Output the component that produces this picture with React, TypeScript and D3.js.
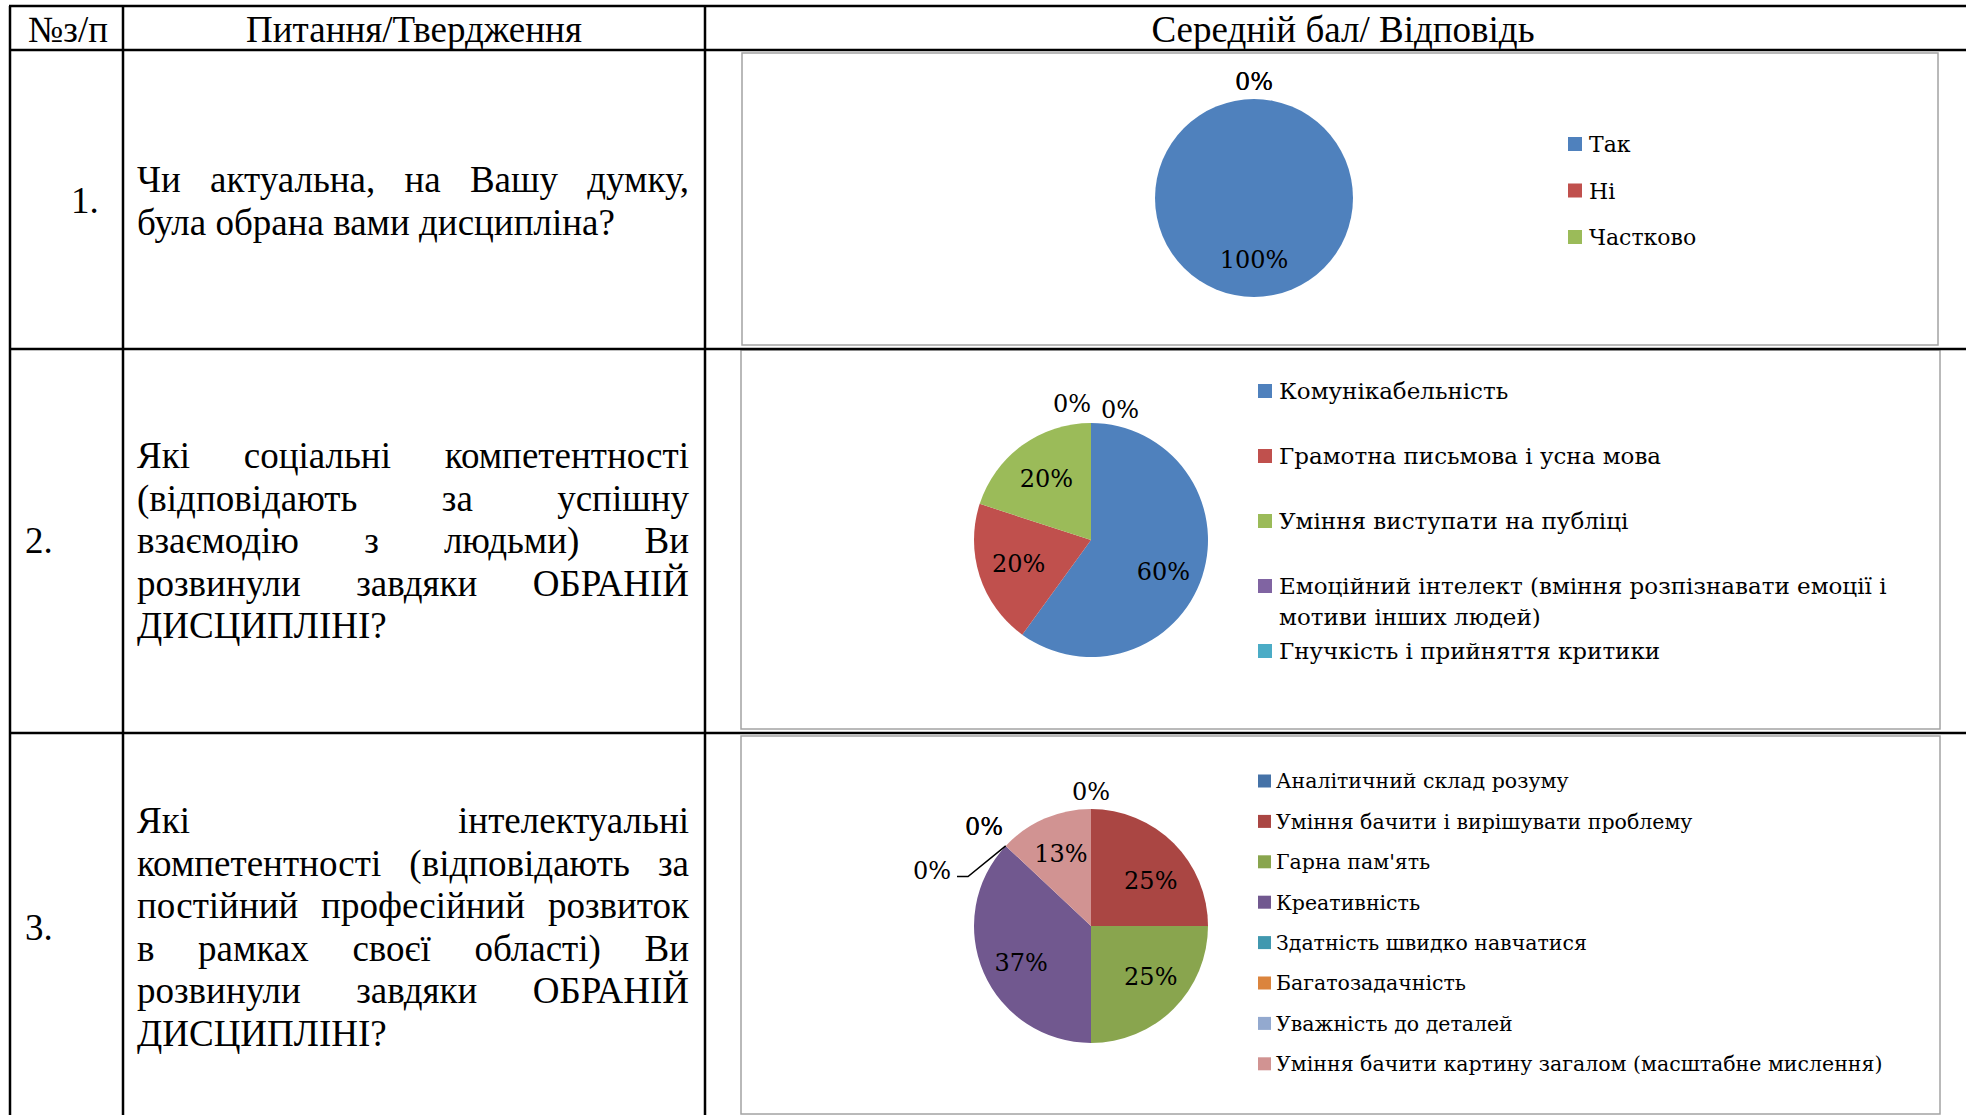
import React, { useLayoutEffect, useRef } from 'react';
import * as d3 from 'd3';

const W = 1966;
const H = 1115;

// table texts
const headers = ['№з/п', 'Питання/Твердження', 'Середній бал/ Відповідь'];
const rowNumbers = ['1.', '2.', '3.'];
const question1 = ['Чи актуальна, на Вашу думку,', 'була обрана вами дисципліна?'];
const question2 = [
  'Які соціальні компетентності',
  '(відповідають за успішну',
  'взаємодію з людьми) Ви',
  'розвинули завдяки ОБРАНІЙ',
  'ДИСЦИПЛІНІ?',
];
const question3 = [
  'Які інтелектуальні',
  'компетентності (відповідають за',
  'постійний професійний розвиток',
  'в рамках своєї області) Ви',
  'розвинули завдяки ОБРАНІЙ',
  'ДИСЦИПЛІНІ?',
];

// chart 1
const c1Labels = ['Так', 'Ні', 'Частково'];
const c1Values = [100, 0, 0];

// chart 2
const c2Labels = [
  'Комунікабельність',
  'Грамотна письмова і усна мова',
  'Уміння виступати на публіці',
  'Емоційний інтелект (вміння розпізнавати емоції і мотиви інших людей)',
  'Гнучкість і прийняття критики',
];
const c2Values = [60, 20, 20, 0, 0];

// chart 3
const c3Labels = [
  'Аналітичний склад розуму',
  'Уміння бачити і вирішувати проблему',
  "Гарна пам'ять",
  'Креативність',
  'Здатність швидко навчатися',
  'Багатозадачність',
  'Уважність до деталей',
  'Уміння бачити картину загалом (масштабне мислення)',
];
const c3Values = [0, 25, 25, 37, 0, 0, 0, 13];

const officeColors = ['#4F81BD', '#C0504D', '#9BBB59', '#8064A2', '#4BACC6', '#F79646'];
const c3Colors = ['#4572A7', '#AA4643', '#89A54E', '#71588F', '#4198AF', '#DB843D', '#93A9CF', '#D19392'];

const tableFont = "'Liberation Serif', 'Times New Roman', serif";
const chartFont = "'DejaVu Serif', serif";

// one line of a justified paragraph: spreads words with word-spacing
function JustLine({ x, y, width, text, justify }: any) {
  const ref = useRef<SVGTextElement>(null);
  useLayoutEffect(() => {
    const el = ref.current;
    if (!el || !justify) return;
    const fit = () => {
      el.style.wordSpacing = '0px';
      const natural = el.getComputedTextLength();
      const spaces = (text.match(/ /g) || []).length;
      if (spaces > 0) el.style.wordSpacing = `${(width - natural) / spaces}px`;
    };
    fit();
    if ((document as any).fonts) (document as any).fonts.ready.then(fit);
  }, [text, width, justify]);
  return (
    <text ref={ref} x={x} y={y}>
      {text}
    </text>
  );
}

function Paragraph({ lines, x, y0, width, lineH }: any) {
  return (
    <g fontFamily={tableFont} fontSize={37} fill="#000">
      {lines.map((l: string, i: number) => (
        <JustLine key={i} x={x} y={y0 + i * lineH} width={width} text={l} justify={i < lines.length - 1} />
      ))}
    </g>
  );
}

function wrap(label: string, maxChars: number) {
  const words = label.split(' ');
  const out: string[] = [];
  let cur = '';
  words.forEach((w) => {
    const next = cur ? cur + ' ' + w : w;
    if (next.length > maxChars && cur) {
      out.push(cur);
      cur = w;
    } else cur = next;
  });
  if (cur) out.push(cur);
  return out;
}

const pieLayout = d3.pie<number>().sort(null).value((d) => d);

function PieChart(props: any) {
  const { frame, cx, cy, r, labels, values, colors, legend, nudges } = props;
  const arcs = pieLayout(values);
  const total = d3.sum(values);
  const pct = d3.format('.0%');
  const arcGen = d3.arc<d3.PieArcDatum<number>>().innerRadius(0).outerRadius(r);
  const labelArc = d3.arc<d3.PieArcDatum<number>>().innerRadius(r * 0.65).outerRadius(r * 0.65);
  const legendY = (i: number) => legend.top + i * legend.step;
  const halfW = 18, halfH = 9, gap = 9;

  return (
    <g fontFamily={chartFont}>
      <rect x={frame.x} y={frame.y} width={frame.w} height={frame.h} fill="#fff" stroke="#a3a3a3" strokeWidth={1.5} />
      <g transform={`translate(${cx},${cy})`}>
        {arcs.map((a, i) =>
          a.value > 0 ? <path key={i} d={arcGen(a) as string} fill={colors[i]} /> : null
        )}
        {arcs.map((a, i) => {
          const txt = pct(a.value / total);
          const n = (nudges && nudges[i]) || { dx: 0, dy: 0 };
          if (a.value > 0) {
            const [lx, ly] = labelArc.centroid(a);
            return (
              <text key={'l' + i} x={lx + n.dx} y={ly + n.dy} dy="0.36em" textAnchor="middle" fontSize={24} fill="#000">
                {txt}
              </text>
            );
          }
          const mid = (a.startAngle + a.endAngle) / 2;
          const sx = Math.sin(mid), sy = -Math.cos(mid);
          const x = sx * (r + gap + halfW) + n.dx;
          const y = sy * (r + gap) + sy * halfH + n.dy;
          return (
            <g key={'l' + i}>
              {n.leader ? (
                <polyline
                  points={`${sx * r},${sy * r} ${x + halfW + 18},${y + 6} ${x + halfW + 7},${y + 6}`}
                  fill="none"
                  stroke="#000"
                  strokeWidth={1.5}
                />
              ) : null}
              <text x={x} y={y} dy="0.36em" textAnchor="middle" fontSize={24} fill="#000">
                {txt}
              </text>
            </g>
          );
        })}
      </g>
      <g fontSize={legend.fs} fill="#000">
        {labels.map((lab: string, i: number) => {
          const lines = wrap(lab, legend.maxChars);
          const y = legendY(i);
          return (
            <g key={'g' + i}>
              <rect x={legend.x} y={y - legend.sq / 2} width={legend.sq} height={legend.sq} fill={colors[i]} />
              {lines.map((ln, k) => (
                <text key={k} x={legend.x + legend.textGap} y={y + 0.365 * legend.fs + k * legend.lineH}>
                  {ln}
                </text>
              ))}
            </g>
          );
        })}
      </g>
    </g>
  );
}

export default function App() {
  const hLines = [6, 50, 349, 733];
  const vLines = [10, 123, 705];
  return (
    <svg
      width={W}
      height={H}
      viewBox={`0 0 ${W} ${H}`}
      style={{ position: 'absolute', left: 0, top: 0, background: '#fff' }}
    >
      <rect width={W} height={H} fill="#fff" />

      {/* header + row numbers */}
      <g fontFamily={tableFont} fontSize={37} fill="#000">
        <text x={28} y={42}>{headers[0]}</text>
        <text x={414} y={42} textAnchor="middle">{headers[1]}</text>
        <text x={1343} y={42} textAnchor="middle">{headers[2]}</text>
        <text x={71} y={213}>{rowNumbers[0]}</text>
        <text x={25} y={553}>{rowNumbers[1]}</text>
        <text x={25} y={940}>{rowNumbers[2]}</text>
      </g>

      <Paragraph lines={question1} x={137} y0={192} width={552} lineH={42.5} />
      <Paragraph lines={question2} x={137} y0={468} width={552} lineH={42.5} />
      <Paragraph lines={question3} x={137} y0={833} width={552} lineH={42.5} />

      <PieChart
        frame={{ x: 742, y: 53, w: 1196, h: 292 }}
        cx={1254}
        cy={198}
        r={99}
        labels={c1Labels}
        values={c1Values}
        colors={officeColors}
        legend={{ x: 1568, top: 144, step: 46.5, sq: 14, textGap: 21, fs: 22, lineH: 31, maxChars: 60 }}
        nudges={{ 0: { dx: 0, dy: -3 } }}
      />
      <PieChart
        frame={{ x: 741, y: 350, w: 1199, h: 379 }}
        cx={1091}
        cy={540}
        r={117}
        labels={c2Labels}
        values={c2Values}
        colors={officeColors}
        legend={{ x: 1258, top: 391, step: 65, sq: 14, textGap: 21, fs: 23, lineH: 31, maxChars: 48 }}
        nudges={{ 0: { dx: 0, dy: 8 }, 3: { dx: -19, dy: -2 }, 4: { dx: 29, dy: 4 } }}
      />
      <PieChart
        frame={{ x: 741, y: 736, w: 1199, h: 378 }}
        cx={1091}
        cy={926}
        r={117}
        labels={c3Labels}
        values={c3Values}
        colors={c3Colors}
        legend={{ x: 1258, top: 781, step: 40.4, sq: 13, textGap: 18, fs: 20.5, lineH: 28, maxChars: 60 }}
        nudges={{
          1: { dx: 6, dy: 8 },
          2: { dx: 6, dy: -3 },
          3: { dx: 0, dy: 6 },
          7: { dx: 0, dy: -3 },
          4: { dx: -2, dy: -7 },
          5: { dx: -2, dy: -7 },
          6: { dx: -54, dy: 37, leader: true },
        }}
      />

      {/* table grid */}
      <g stroke="#000" strokeWidth={2.5}>
        {hLines.map((y) => (
          <line key={'h' + y} x1={vLines[0] - 1} x2={W} y1={y} y2={y} />
        ))}
        {vLines.map((x) => (
          <line key={'v' + x} x1={x} x2={x} y1={hLines[0]} y2={H} />
        ))}
      </g>
    </svg>
  );
}
